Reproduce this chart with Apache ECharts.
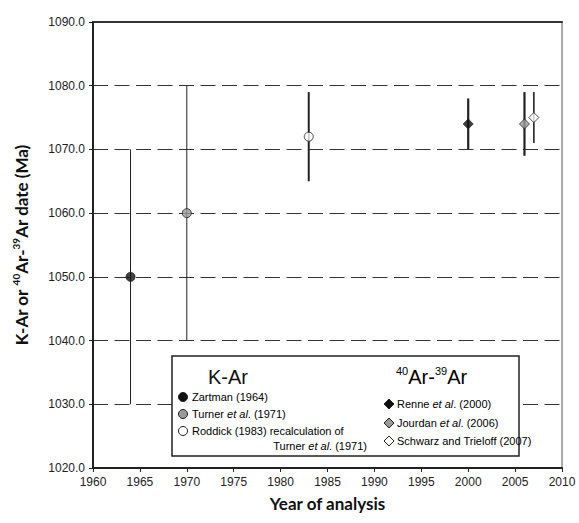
<!DOCTYPE html>
<html>
<head>
<meta charset="utf-8">
<script src="https://cdn.jsdelivr.net/npm/echarts@6/dist/echarts.min.js"></script>
<style>html,body{margin:0;padding:0;background:#fff}#c{width:579px;height:523px}</style>
</head>
<body>
<div id="c"></div>
<script>
// ---- data ----
const studies = ['Zartman (1964)', 'Turner et al. (1971)', 'Roddick (1983)', 'Renne et al. (2000)', 'Jourdan et al. (2006)', 'Schwarz and Trieloff (2007)'];
const years = [1964, 1970, 1983, 2000, 2006, 2007];
const ages  = [1050, 1060, 1072, 1074, 1074, 1075];
const lows  = [1030, 1040, 1065, 1070, 1069, 1071];
const highs = [1070, 1080, 1079, 1078, 1079, 1079];
const xTicks = [1960, 1965, 1970, 1975, 1980, 1985, 1990, 1995, 2000, 2005, 2010];
const yTicks = [1020, 1030, 1040, 1050, 1060, 1070, 1080, 1090];

// ---- styles ----
const symbols = ['circle', 'circle', 'circle', 'diamond', 'diamond', 'diamond'];
const fills = ['#111', '#9a9a9a', '#fff', '#111', '#9a9a9a', '#fff'];
const barWidths = [1, 1, 2, 2.2, 2.2, 1.6];

const chart = echarts.init(document.getElementById('c'), null, {renderer: 'svg'});

const errData = years.map((x, i) => [x, lows[i], highs[i], i]);
const ptData = years.map((x, i) => ({
  value: [x, ages[i]],
  name: studies[i],
  symbol: symbols[i],
  symbolSize: symbols[i] === 'circle' ? 9 : 10,
  itemStyle: {color: fills[i], borderColor: '#222', borderWidth: 1}
}));

const legFont = 'Liberation Sans, Arial, sans-serif';
const titleFont = 'Lato, "Open Sans", sans-serif';
const richLeg = {
  n: {fontSize: 11, fontFamily: legFont, color: '#222'},
  i: {fontSize: 11, fontFamily: legFont, color: '#222', fontStyle: 'italic'}
};
function legText(x, y, str, align) {
  return {type: 'text', x: x, y: y, z: 101,
    style: {text: str, rich: richLeg, align: align || 'left', verticalAlign: 'middle'}};
}
function legMarker(x, y, sym, fill) {
  if (sym === 'circle') {
    return {type: 'circle', x: x, y: y, z: 101, shape: {cx: 0, cy: 0, r: 4.5},
      style: {fill: fill, stroke: '#222', lineWidth: 1}};
  }
  return {type: 'polygon', x: x, y: y, z: 101,
    shape: {points: [[0, -5], [5, 0], [0, 5], [-5, 0]]},
    style: {fill: fill, stroke: '#222', lineWidth: 1}};
}

const option = {
  animation: false,
  backgroundColor: '#fff',
  grid: {left: 93, right: 17, top: 22, bottom: 55, show: true, borderColor: '#555', borderWidth: 1},
  xAxis: [{
    type: 'value', min: xTicks[0], max: xTicks[xTicks.length - 1], interval: 5,
    name: 'Year of analysis', nameLocation: 'middle', nameGap: 27,
    nameTextStyle: {fontSize: 17, fontWeight: 'bold', fontFamily: titleFont, color: '#111'},
    axisLine: {show: true, lineStyle: {color: '#222', width: 2}},
    axisTick: {show: true, length: 4, lineStyle: {color: '#222'}},
    axisLabel: {fontSize: 12, color: '#222', margin: 8, fontFamily: legFont, formatter: v => String(v)},
    splitLine: {show: false}
  }, {
    type: 'value', position: 'top', min: xTicks[0], max: xTicks[xTicks.length - 1], interval: 5,
    axisLine: {show: true, lineStyle: {color: '#333', width: 2}},
    axisTick: {show: false}, axisLabel: {show: false}, splitLine: {show: false}
  }],
  yAxis: {
    type: 'value', min: yTicks[0], max: yTicks[yTicks.length - 1], interval: 10,
    name: '{b|K-Ar or }{s|40}{b|Ar-}{s|39}{b|Ar date (Ma)}', nameLocation: 'middle', nameGap: 62, nameRotate: 90,
    nameTextStyle: {
      rich: {
        b: {fontSize: 17, fontWeight: 'bold', fontFamily: titleFont, color: '#111', lineHeight: 20},
        s: {fontSize: 10, fontWeight: 'bold', fontFamily: titleFont, color: '#111', verticalAlign: 'top', lineHeight: 20, padding: [0, 0, 8, 0]}
      }
    },
    axisLine: {show: true, lineStyle: {color: '#222', width: 2}},
    axisTick: {show: true, length: 4, lineStyle: {color: '#222'}},
    axisLabel: {fontSize: 12, color: '#222', margin: 8, fontFamily: legFont, formatter: v => v.toFixed(1)},
    splitLine: {show: true, lineStyle: {color: '#333', width: 1, type: [15, 6.5]}}
  },
  series: [
    {
      type: 'custom', data: errData, z: 3,
      renderItem: function (params, api) {
        const i = api.value(3);
        const p1 = api.coord([api.value(0), api.value(1)]);
        const p2 = api.coord([api.value(0), api.value(2)]);
        return {type: 'line', shape: {x1: p1[0], y1: p1[1], x2: p2[0], y2: p2[1]},
          style: {stroke: '#222', lineWidth: barWidths[i]}};
      }
    },
    {type: 'scatter', data: ptData, z: 4}
  ],
  graphic: [
    {type: 'rect', x: 172, y: 356, z: 100, shape: {width: 347, height: 100},
      style: {fill: '#fff', stroke: '#222', lineWidth: 1.5}},
    {type: 'text', x: 208, y: 377, z: 101, style: {text: 'K-Ar', fontSize: 20, fontFamily: legFont, fill: '#111', verticalAlign: 'middle'}},
    {type: 'text', x: 396, y: 377, z: 101, style: {
      text: '{s|40}{b|Ar-}{s|39}{b|Ar}', verticalAlign: 'middle',
      rich: {b: {fontSize: 20, fontFamily: legFont, color: '#111', lineHeight: 24},
             s: {fontSize: 11, fontFamily: legFont, color: '#111', verticalAlign: 'top', lineHeight: 24, padding: [0, 0, 10, 0]}}}},
    legMarker(183, 397, symbols[0], fills[0]),
    legText(192, 397, '{n|Zartman (1964)}'),
    legMarker(183, 414, symbols[1], fills[1]),
    legText(192, 414, '{n|Turner }{i|et al}{n|. (1971)}'),
    legMarker(183, 431, symbols[2], fills[2]),
    legText(192, 431, '{n|Roddick (1983) recalculation of}'),
    legText(367, 446, '{n|Turner }{i|et al}{n|. (1971)}', 'right'),
    legMarker(389, 404, symbols[3], fills[3]),
    legText(397, 404, '{n|Renne }{i|et al}{n|. (2000)}'),
    legMarker(389, 423, symbols[4], fills[4]),
    legText(397, 423, '{n|Jourdan }{i|et al}{n|. (2006)}'),
    legMarker(389, 441, symbols[5], fills[5]),
    legText(397, 441, '{n|Schwarz and Trieloff (2007)}')
  ]
};
chart.setOption(option);
</script>
</body>
</html>
